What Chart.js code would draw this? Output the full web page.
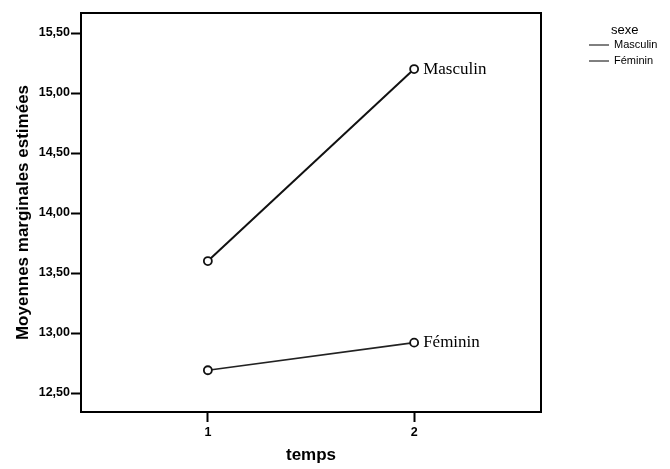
<!DOCTYPE html>
<html>
<head>
<meta charset="utf-8">
<script src="https://cdn.jsdelivr.net/npm/chart.js@4"></script>
<style>
  html, body { margin: 0; padding: 0; background: #fff; }
  #wrap { width: 670px; height: 469px; }
</style>
</head>
<body>
<div id="wrap"><canvas id="myChart" width="670" height="469"></canvas></div>
<script>
// data
const temps = [1, 2];
const masculin = [13.60, 15.20];
const feminin = [12.69, 12.92];
const yTicks = [12.5, 13.0, 13.5, 14.0, 14.5, 15.0, 15.5];
const xTicks = [1, 2];
const series = ['Masculin', 'Féminin'];

const ctx = document.getElementById("myChart");

// box round the plot, labels at line ends, small legend top right
const extras = {
  id: 'extras',
  afterDraw(chart) {
    const c = chart.ctx;
    const a = chart.chartArea;
    c.save();
    c.strokeStyle = '#000';
    c.lineWidth = 2;
    c.strokeRect(a.left, a.top, a.right - a.left, a.bottom - a.top);

    c.fillStyle = '#000';
    c.font = '17px "Liberation Serif", serif';
    c.textBaseline = 'middle';
    c.textAlign = 'left';
    chart.data.datasets.forEach((ds, i) => {
      const pt = chart.getDatasetMeta(i).data[ds.data.length - 1];
      c.fillText(ds.label, pt.x + 9, pt.y);
    });

    c.font = '13px "Liberation Sans", Arial, sans-serif';
    c.fillText('sexe', 611, 30);
    c.font = '11px "Liberation Sans", Arial, sans-serif';
    chart.data.datasets.forEach((ds, i) => {
      const y = 45 + i * 16;
      c.lineWidth = 1;
      c.beginPath();
      c.moveTo(589, y);
      c.lineTo(609, y);
      c.stroke();
      c.fillText(ds.label, 614, y);
    });
    c.restore();
  }
};

const fmt = v => v.toFixed(2).replace('.', ',');

let myChart = new Chart(ctx, {
  type: 'line',
  data: {
    datasets: [{
      label: series[0],
      data: temps.map((t, i) => ({ x: t, y: masculin[i] })),
      borderColor: '#111',
      borderWidth: 2,
      pointRadius: 4,
      pointBorderWidth: 1.8,
      pointBackgroundColor: '#fff',
      pointBorderColor: '#111'
    }, {
      label: series[1],
      data: temps.map((t, i) => ({ x: t, y: feminin[i] })),
      borderColor: '#222',
      borderWidth: 1.6,
      pointRadius: 4,
      pointBorderWidth: 1.8,
      pointBackgroundColor: '#fff',
      pointBorderColor: '#111'
    }]
  },
  options: {
    responsive: false,
    animation: false,
    layout: { padding: { top: 13, right: 129, left: 0, bottom: 0 } },
    plugins: {
      legend: { display: false },
      tooltip: { enabled: false }
    },
    scales: {
      x: {
        type: 'linear',
        min: 0.385,
        max: 2.615,
        afterBuildTicks: s => { s.ticks = xTicks.map(v => ({ value: v })); },
        afterFit: s => { s.height = 57; },
        ticks: {
          color: '#000',
          font: { family: '"Liberation Sans", Arial', size: 12.5, weight: 'bold' },
          padding: 3
        },
        grid: { drawOnChartArea: false, drawTicks: true, tickLength: 10, tickColor: '#000', tickWidth: 2 },
        border: { display: true, color: '#000', width: 2 },
        title: {
          display: true,
          text: 'temps',
          color: '#000',
          font: { family: '"Liberation Sans", Arial', size: 17, weight: 'bold' },
          padding: { top: 4, bottom: 3 }
        }
      },
      y: {
        min: 12.342,
        max: 15.667,
        afterBuildTicks: s => { s.ticks = yTicks.map(v => ({ value: v })); },
        afterFit: s => { s.width = 81; },
        ticks: {
          color: '#000',
          callback: v => fmt(v),
          font: { family: '"Liberation Sans", Arial', size: 12.5, weight: 'bold' },
          padding: 1
        },
        grid: { drawOnChartArea: false, drawTicks: true, tickLength: 10, tickColor: '#000', tickWidth: 2 },
        border: { display: true, color: '#000', width: 2 },
        title: {
          display: true,
          text: 'Moyennes marginales estimées',
          color: '#000',
          font: { family: '"Liberation Sans", Arial', size: 17, weight: 'bold' },
          padding: { top: 13, bottom: 4 }
        }
      }
    }
  },
  plugins: [extras]
});
</script>
</body>
</html>
